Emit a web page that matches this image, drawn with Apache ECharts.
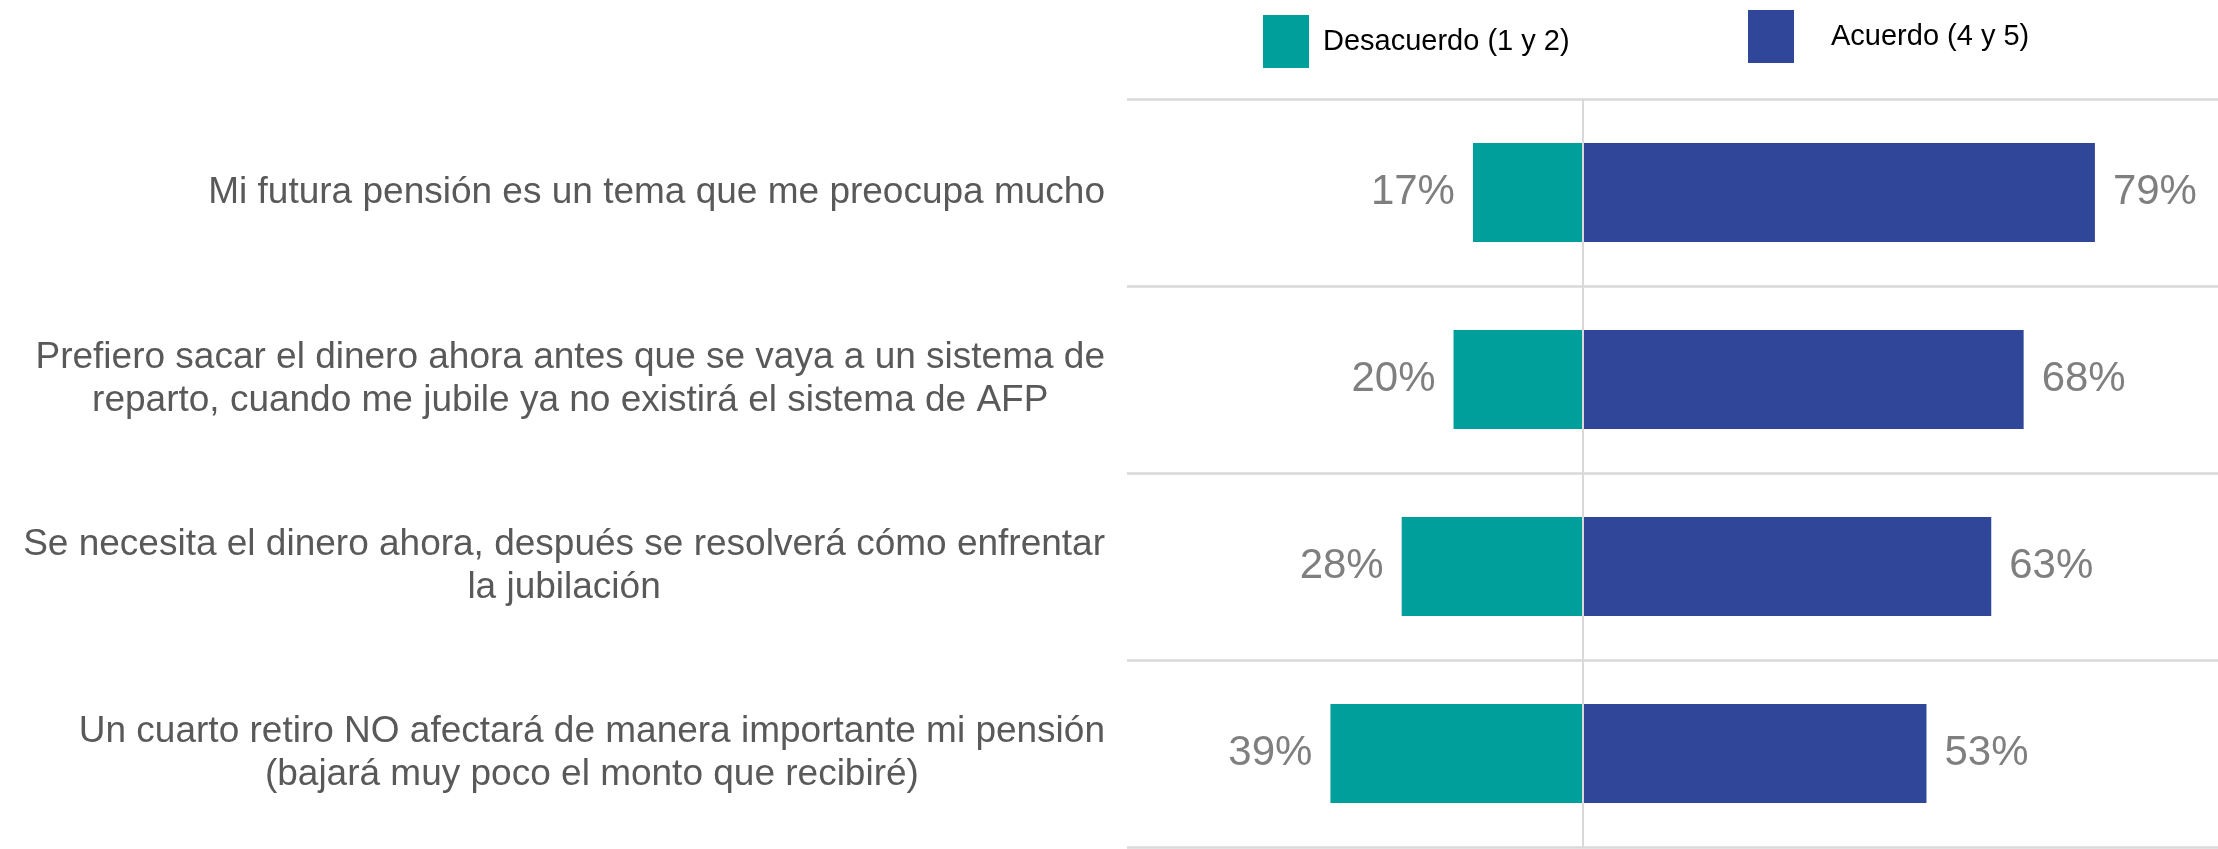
<!DOCTYPE html>
<html>
<head>
<meta charset="utf-8">
<title>Pensiones</title>
<script src="https://cdn.jsdelivr.net/npm/echarts@6/dist/echarts.min.js"></script>
<style>
    html, body { margin: 0; padding: 0; background: #fff; }
    #chart { width: 2218px; height: 849px; }
</style>
</head>
<body>
<div id="chart"></div>
<script>
// datos de la encuesta
var categorias = [
    'Mi futura pensión es un tema que me preocupa mucho',
    'Prefiero sacar el dinero ahora antes que se vaya a un sistema de\nreparto, cuando me jubile ya no existirá el sistema de AFP',
    'Se necesita el dinero ahora, después se resolverá cómo enfrentar\nla jubilación',
    'Un cuarto retiro NO afectará de manera importante mi pensión\n(bajará muy poco el monto que recibiré)'
];
var desacuerdo = [17, 20, 28, 39];
var acuerdo = [79, 68, 63, 53];

var fuente = "'Liberation Sans', Arial, sans-serif";

var chart = echarts.init(document.getElementById('chart'));

var option = {
    backgroundColor: '#fff',
    animation: false,
    textStyle: { fontFamily: fuente },
    // dos leyendas para ubicar cada una donde está en el original
    legend: [{
        data: ['Desacuerdo (1 y 2)'],
        left: 1263,
        top: 15,
        padding: 0,
        icon: 'rect',
        itemWidth: 46,
        itemHeight: 53,
        selectedMode: false,
        textStyle: { fontSize: 29, color: '#000', fontFamily: fuente, padding: [0, 0, 0, 9] }
    }, {
        data: ['Acuerdo (4 y 5)'],
        left: 1748,
        top: 10,
        padding: 0,
        icon: 'rect',
        itemWidth: 46,
        itemHeight: 53,
        selectedMode: false,
        textStyle: { fontSize: 29, color: '#000', fontFamily: fuente, padding: [0, 0, 0, 32] }
    }],
    grid: {
        left: 1127,
        right: 0,
        top: 99,
        bottom: 2,
        containLabel: false
    },
    xAxis: {
        type: 'value',
        min: -70.4,
        max: 98,
        show: false
    },
    yAxis: {
        type: 'category',
        inverse: true,
        data: categorias,
        axisLine: { show: false },
        axisTick: { show: false },
        splitLine: {
            show: true,
            lineStyle: { color: '#d9d9d9', width: 2.5 }
        },
        axisLabel: {
            margin: 22,
            align: 'right',
            // cada línea centrada dentro del bloque
            formatter: function (v) {
                return v.split('\n').map(function (l) { return '{c|' + l + '}'; }).join('\n');
            },
            rich: {
                c: {
                    align: 'center',
                    fontSize: 37,
                    lineHeight: 43,
                    color: '#595959',
                    fontFamily: fuente
                }
            }
        }
    },
    series: [{
        name: 'Desacuerdo (1 y 2)',
        type: 'bar',
        stack: 'total',
        barWidth: 99,
        itemStyle: { color: '#009f9b' },
        label: {
            show: true,
            position: 'left',
            distance: 18,
            fontSize: 42,
            color: '#7f7f7f',
            fontFamily: fuente,
            formatter: function (p) { return Math.abs(p.value) + '%'; }
        },
        data: desacuerdo.map(function (v) { return -v; }),
        // línea vertical en el cero
        markLine: {
            silent: true,
            symbol: 'none',
            label: { show: false },
            lineStyle: { color: '#d9d9d9', type: 'solid', width: 2 },
            data: [{ xAxis: 0 }]
        }
    }, {
        name: 'Acuerdo (4 y 5)',
        type: 'bar',
        stack: 'total',
        barWidth: 99,
        itemStyle: { color: '#2f4699' },
        label: {
            show: true,
            position: 'right',
            distance: 18,
            fontSize: 42,
            color: '#7f7f7f',
            fontFamily: fuente,
            formatter: '{c}%'
        },
        data: acuerdo
    }]
};

chart.setOption(option);
</script>
</body>
</html>
